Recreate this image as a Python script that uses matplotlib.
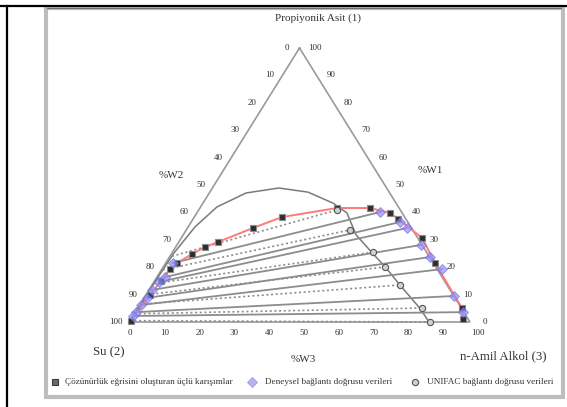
import matplotlib
matplotlib.use("Agg")
import matplotlib.pyplot as plt
from matplotlib.lines import Line2D
from matplotlib.patches import Rectangle
import numpy as np

plt.rcParams['font.family'] = ['Liberation Serif', 'DejaVu Serif']

# Compositions in mass percent: w1 = propionic acid, w3 = n-amyl alcohol
# (water w2 = 100 - w1 - w3)

# experimental solubility (binodal) curve
bin_w1 = [0.4, 9.9, 15.0, 19.3, 21.5, 24.8, 27.4, 29.2, 34.3, 38.3,
          41.6, 41.6, 39.8, 37.6, 30.7, 21.5, 5.1, 1.0]
bin_w3 = [0.4, 1.2, 1.9, 2.4, 3.3, 6.1, 8.6, 11.5, 19.2, 25.7,
          40.2, 49.9, 56.6, 60.1, 70.6, 79.0, 95.1, 97.5]

# experimental tie lines: water-rich end (L) and alcohol-rich end (R)
exp_L_w1 = [21.5, 16.4, 14.6, 11.7, 8.8, 6.2, 3.6, 2.2]
exp_L_w3 = [2.1, 2.4, 1.5, 0.9, 0.9, 0.4, 0.3, 0.1]
exp_R_w1 = [40.1, 36.5, 34.3, 28.1, 23.7, 19.3, 9.5, 3.6]
exp_R_w3 = [53.5, 61.3, 64.3, 71.5, 76.4, 82.1, 90.6, 96.1]

# UNIFAC predicted binodal
uni_w1 = [0.0, 8.0, 15.3, 25.2, 34.7, 42.0, 47.1, 48.9, 47.4, 43.4,
          39.8, 31.8, 24.5, 20.1, 13.5, 5.1, 0.0]
uni_w3 = [0.0, 0.3, 0.3, 0.6, 2.0, 4.8, 10.8, 19.5, 28.8, 38.1,
          44.0, 50.7, 59.6, 65.1, 72.7, 82.7, 88.0]

# UNIFAC tie lines
uni_L_w1 = [24.0, 19.0, 14.0, 10.0, 6.5, 3.0, 0.5]
uni_L_w3 = [0.6, 0.4, 0.3, 0.3, 0.2, 0.1, 0.0]
uni_R_w1 = [40.9, 33.6, 25.5, 20.1, 13.5, 5.1, 0.0]
uni_R_w3 = [40.6, 48.0, 58.8, 65.1, 72.7, 83.3, 88.3]

ticks = [0, 10, 20, 30, 40, 50, 60, 70, 80, 90, 100]

title_top = "Propiyonik Asit (1)"
title_left = "Su (2)"
title_right = "n-Amil Alkol (3)"
legend_labels = ["Çözünürlük eğrisini oluşturan üçlü karışımlar",
                 "Deneysel bağlantı doğrusu verileri",
                 "UNIFAC bağlantı doğrusu verileri"]


def tern(w1, w3):
    w1 = np.asarray(w1, float)
    w3 = np.asarray(w3, float)
    return w3 + w1 / 2.0, w1


W, H = 567, 407
fig = plt.figure(figsize=(W / 100, H / 100), dpi=100)
ax = fig.add_axes([0, 0, 1, 1])
ax.axis('off')

# pixel geometry of the triangle
x0, xs = 129.0, 3.41     # left vertex x, px per unit along base
yb, ys = 322.0, 2.74     # base y (from top), px per unit of height
ax.set_xlim(-x0 / xs, (W - x0) / xs)
ax.set_ylim((yb - H) / ys, yb / ys)


def px(dx, dy):
    # pixel offset to data units (dy positive = down)
    return dx / xs, -dy / ys


# frame
fig.add_artist(Line2D([0, 1], [1 - 6 / H, 1 - 6 / H], color='black', lw=1.6))
fig.add_artist(Line2D([7 / W, 7 / W], [0, 1 - 6 / H], color='black', lw=1.6))
fig.add_artist(Rectangle((45.5 / W, 10 / H), (562.5 - 45.5) / W, (H - 8 - 10) / H,
                         transform=fig.transFigure, fill=False,
                         edgecolor='#bdbdbd', lw=3))
fig.add_artist(Line2D([47 / W, 561 / W], [1 - 8 / H, 1 - 8 / H], color='#707070', lw=0.8))

# triangle
tx, ty = tern([100, 0, 0, 100], [0, 0, 100, 0])
ax.plot(tx, ty, color='#9a9a9a', lw=1.2, solid_joinstyle='miter', zorder=2)

# UNIFAC binodal
ux, uy = tern(uni_w1, uni_w3)
ax.plot(ux, uy, color='#7a7a7a', lw=1.1, zorder=3)

# UNIFAC tie lines (dotted)
for a1, a3, b1, b3 in zip(uni_L_w1, uni_L_w3, uni_R_w1, uni_R_w3):
    lx, ly = tern([a1, b1], [a3, b3])
    ax.plot(lx, ly, color='#8c8c8c', lw=1.2, ls=(0, (1.2, 1.6)), zorder=3)

# experimental tie lines (solid)
for a1, a3, b1, b3 in zip(exp_L_w1, exp_L_w3, exp_R_w1, exp_R_w3):
    lx, ly = tern([a1, b1], [a3, b3])
    ax.plot(lx, ly, color='#8c8c8c', lw=1.3, zorder=3)

# experimental binodal curve
bx, by = tern(bin_w1, bin_w3)
ax.plot(bx, by, color='#ff7a7a', lw=1.4, zorder=4)
ax.plot(bx, by, ls='none', marker='s', ms=5, mfc='#2e2e2e', mec='#8a8a8a', mew=0.8, zorder=5)

# tie line end markers
ex, ey = tern(exp_L_w1 + exp_R_w1, exp_L_w3 + exp_R_w3)
ax.plot(ex, ey, ls='none', marker='D', ms=5.5, mfc='#8f8fff', mec='#6a6ad8', mew=0.6,
        alpha=0.7, zorder=6)
cx, cy = tern(uni_R_w1, uni_R_w3)
ax.plot(cx, cy, ls='none', marker='o', ms=4.5, mfc='#d0d0d0', mec='#555555', mew=0.8, zorder=6)

# tick labels
tkw = dict(fontsize=6.5, color='#333333', va='center', ha='center')
for v in ticks:
    # left side: %W2, 0 at apex -> 100 at water corner
    x, y = tern(100 - v, 0)
    dx, dy = px(-13, 0)
    ax.text(x + dx, y + dy, str(v), **tkw)
    # right side: %W1, 0 at alcohol corner -> 100 at apex
    x, y = tern(v, 100 - v)
    dx, dy = px(15, 0)
    ax.text(x + dx, y + dy, str(v), **tkw)
    # bottom: %W3
    x, y = tern(0, v)
    dx, dy = px(1 + 0.07 * v, 11)
    ax.text(x + dx, y + dy, str(v), **tkw)

# axis names
def at(xp, yp, s, **kw):
    ax.text((xp - x0) / xs, (yb - yp) / ys, s, **kw)

nkw = dict(fontsize=8, color='#333333', va='center', ha='center')
at(318, 18, title_top, **nkw)
at(109, 352, title_left, fontsize=9.2, color='#333333', va='center', ha='center')
at(503, 356, title_right, fontsize=9.2, color='#333333', va='center', ha='center')
at(171, 175, "%W2", fontsize=8, color='#333333', va='center', ha='center')
at(430, 170, "%W1", fontsize=8, color='#333333', va='center', ha='center')
at(303, 360, "%W3", fontsize=8, color='#333333', va='center', ha='center')

# legend row
ly_ = 382
lx1, ly1 = (55 - x0) / xs, (yb - ly_) / ys
ax.plot([lx1], [ly1], ls='none', marker='s', ms=5, mfc='#6a6a6a', mec='#3a3a3a', mew=0.8,
        clip_on=False)
ax.plot([(252 - x0) / xs], [ly1], ls='none', marker='D', ms=5.5, mfc='#b4b4f4',
        mec='#9a9ae6', mew=0.6, clip_on=False)
ax.plot([(415 - x0) / xs], [ly1], ls='none', marker='o', ms=4.5, mfc='#d0d0d0',
        mec='#555555', mew=0.8, clip_on=False)
lkw = dict(fontsize=6.6, color='#333333', va='center', ha='left')
at(65, ly_, legend_labels[0], **lkw)
at(265, ly_, legend_labels[1], **lkw)
at(427, ly_, legend_labels[2], **lkw)

fig.savefig("out.png", dpi=100)
